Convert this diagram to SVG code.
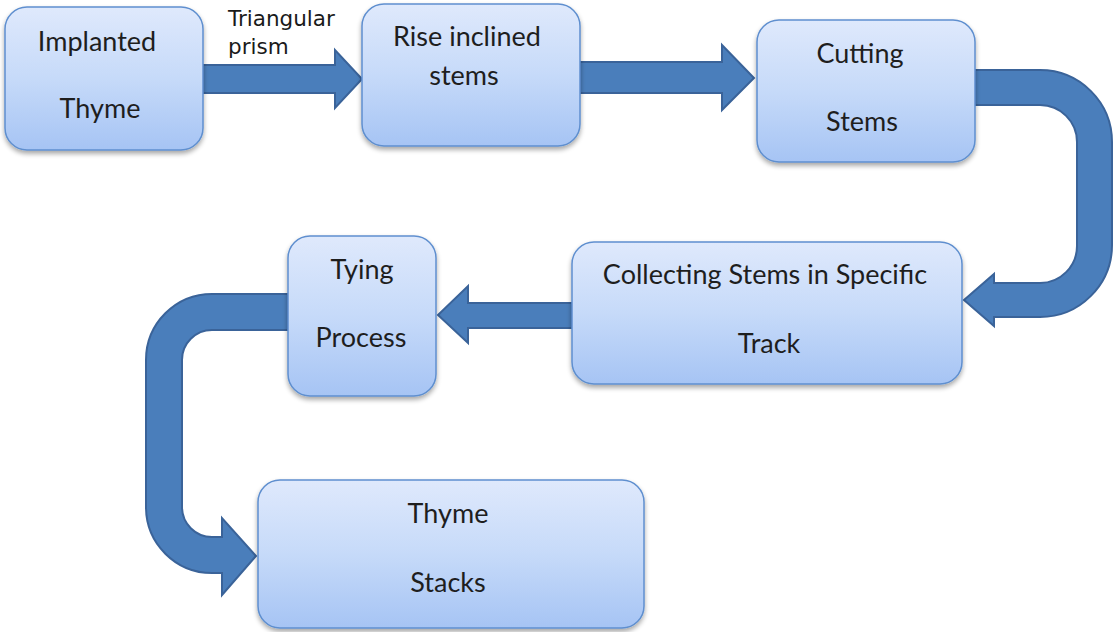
<svg xmlns="http://www.w3.org/2000/svg" width="1113" height="632" viewBox="0 0 1113 632">
<defs>
<linearGradient id="bg" x1="0" y1="0" x2="0" y2="1">
<stop offset="0" stop-color="#dfe9fc"/>
<stop offset="0.5" stop-color="#c6daf9"/>
<stop offset="1" stop-color="#a6c4f4"/>
</linearGradient>
<filter id="sh" x="-10%" y="-10%" width="120%" height="130%">
<feGaussianBlur in="SourceAlpha" stdDeviation="2.5"/>
<feOffset dx="0" dy="3" result="b"/>
<feComponentTransfer><feFuncA type="linear" slope="0.35"/></feComponentTransfer>
<feMerge><feMergeNode/><feMergeNode in="SourceGraphic"/></feMerge>
</filter>
</defs>
<style>
.box{fill:url(#bg);stroke:#5f8fcf;stroke-width:1.5;filter:url(#sh)}
.t{font-family:Lato,"Open Sans",sans-serif;font-size:27px;fill:#1e1e1e;text-anchor:middle}
.lbl{font-family:"DejaVu Sans",sans-serif;font-size:21.5px;fill:#1a1a1a}
.arr{fill:#4a7ebb;stroke:#3a6399;stroke-width:2;stroke-linejoin:miter}
</style>
<rect width="1113" height="632" fill="#ffffff"/>
<g id="connectors">
<path class="arr" d="M203,65 L335,65 L335,50 L362,79 L335,108 L335,93 L203,93 Z"/>
<path class="arr" d="M580,62 L722,62 L722,45 L754,78 L722,110 L722,93 L580,93 Z"/>
<path class="arr" d="M975,70 L1040,70 A72,72 0 0 1 1112,142 L1112,245 A72,72 0 0 1 1040,317 L994,317 L994,326 L964,300 L994,274 L994,283 L1040,283 A37,37 0 0 0 1077,246 L1077,142 A37,37 0 0 0 1040,105 L975,105 Z"/>
<path class="arr" d="M572,303 L468,303 L468,286 L438,315 L468,343 L468,328 L572,328 Z"/>
<path class="arr" d="M288,294 L212,294 A66,66 0 0 0 146,360 L146,507 A66,66 0 0 0 212,573 L222,573 L222,595 L256,556 L222,518 L222,537 L212,537 A30,30 0 0 1 182,507 L182,360 A30,30 0 0 1 212,330 L288,330 Z"/>
<text class="lbl" x="228" y="26">Triangular</text>
<text class="lbl" x="228" y="54">prism</text>
</g>
<g id="n1">
<rect class="box" x="5" y="7" width="198" height="143" rx="22"/>
<text class="t" x="97" y="51">Implanted</text>
<text class="t" x="100" y="118">Thyme</text>
</g>
<g id="n2">
<rect class="box" x="362" y="4" width="218" height="142" rx="22"/>
<text class="t" x="467" y="46">Rise inclined</text>
<text class="t" x="464" y="85">stems</text>
</g>
<g id="n3">
<rect class="box" x="757" y="20" width="218" height="142" rx="22"/>
<text class="t" x="860" y="63">Cutting</text>
<text class="t" x="862" y="131">Stems</text>
</g>
<g id="n4">
<rect class="box" x="572" y="242" width="390" height="142" rx="22"/>
<text class="t" x="765" y="284">Collecting Stems in Specific</text>
<text class="t" x="769" y="353">Track</text>
</g>
<g id="n5">
<rect class="box" x="288" y="236" width="148" height="160" rx="22"/>
<text class="t" x="362" y="279">Tying</text>
<text class="t" x="361" y="347">Process</text>
</g>
<g id="n6">
<rect class="box" x="258" y="480" width="386" height="148" rx="22"/>
<text class="t" x="448" y="523">Thyme</text>
<text class="t" x="448" y="592">Stacks</text>
</g>
</svg>
